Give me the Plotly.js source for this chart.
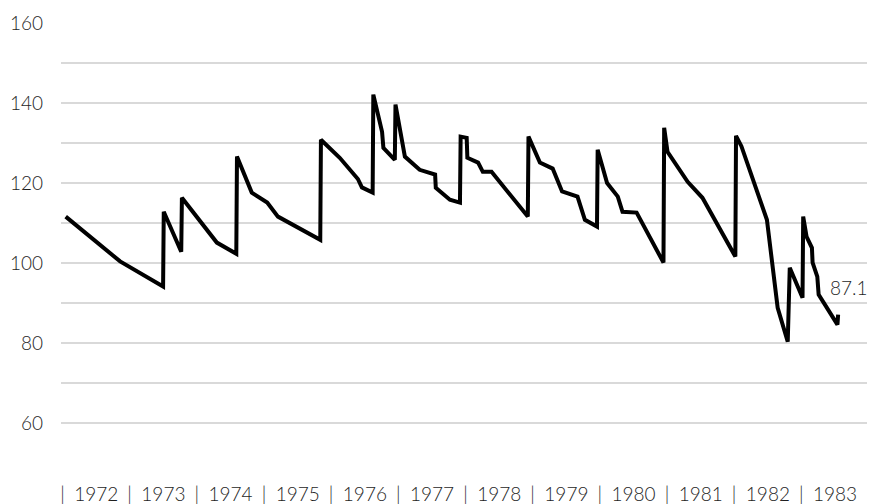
<!DOCTYPE html>
<html>
<head>
<meta charset="utf-8">
<script src="https://cdn.plot.ly/plotly-3.0.1.min.js"></script>
<style>html,body{margin:0;padding:0;background:#fff;}#chart{width:872px;height:504px;}</style>
</head>
<body>
<div id="chart"></div>
<script>
// Tick labels (years)
var yearLabels = [1972,1973,1974,1975,1976,1977,1978,1979,1980,1981,1982,1983];

// Time (decimal years) and index values
var t = [
  1972.07, 1972.88, 1973.52, 1973.53, 1973.79, 1973.80,
  1974.32, 1974.61, 1974.62, 1974.84, 1975.07, 1975.23, 1975.86, 1975.87,
  1976.15, 1976.42, 1976.48, 1976.64, 1976.65, 1976.78, 1976.80, 1976.97, 1976.98,
  1977.12, 1977.34, 1977.49, 1977.57, 1977.58, 1977.79, 1977.94, 1977.95,
  1978.04, 1978.05, 1978.21, 1978.28, 1978.41, 1978.95, 1978.96,
  1979.13, 1979.32, 1979.46, 1979.69, 1979.80, 1979.98, 1979.99,
  1980.13, 1980.29, 1980.36, 1980.57, 1980.97, 1980.98,
  1981.03, 1981.33, 1981.55, 1982.04, 1982.05,
  1982.13, 1982.51, 1982.67, 1982.82, 1982.85, 1983.04, 1983.05,
  1983.10, 1983.18, 1983.19, 1983.26, 1983.28, 1983.56, 1983.57
];
var values = [
  111.6, 100.4, 94.1, 112.8, 102.8, 116.3,
  105.1, 102.3, 126.6, 117.6, 115.1, 111.6, 105.8, 130.8,
  126.3, 121.0, 118.9, 117.6, 142.1, 132.8, 128.8, 125.8, 139.6,
  126.6, 123.3, 122.6, 122.1, 118.8, 115.8, 115.1, 131.6,
  131.3, 126.3, 125.1, 122.8, 122.8, 111.6, 131.6,
  125.1, 123.6, 117.9, 116.6, 110.8, 109.1, 128.3,
  120.0, 116.6, 112.8, 112.6, 100.1, 133.8,
  127.8, 120.3, 116.3, 101.6, 131.8,
  129.2, 110.8, 88.8, 80.3, 98.8, 91.3, 111.6,
  106.6, 103.8, 100.1, 96.6, 92.1, 84.6, 87.1
];

var tickVals = yearLabels.map(function(y){ return y + 0.42; });
var tickText = yearLabels.map(function(y){ return '|\u2002' + y; });

var lastIdx = values.length - 1;
var fontFam = 'Lato, "Open Sans", sans-serif';
var textColor = '#1e1e1e';

var trace = {
  x: t,
  y: values,
  type: 'scatter',
  mode: 'lines',
  line: {color: '#000000', width: 4, shape: 'linear'},
  hoverinfo: 'x+y'
};

var layout = {
  width: 872,
  height: 504,
  margin: {l: 61, r: 5, t: 23, b: 41},
  paper_bgcolor: '#ffffff',
  plot_bgcolor: '#ffffff',
  showlegend: false,
  font: {family: fontFam, color: textColor, size: 19, weight: 300},
  xaxis: {
    range: [1972, 1984],
    showgrid: false,
    zeroline: false,
    showline: false,
    tickmode: 'array',
    tickvals: tickVals,
    ticktext: tickText,
    ticks: '',
    ticklabelstandoff: 18,
    tickfont: {family: fontFam, size: 19, color: textColor, weight: 300}
  },
  yaxis: {
    range: [50, 160],
    tick0: 0,
    dtick: 20,
    showgrid: true,
    gridcolor: '#d9d9d9',
    gridwidth: 1.5,
    minor: {dtick: 10, tick0: 0, showgrid: true, gridcolor: '#d9d9d9', gridwidth: 1.5},
    zeroline: false,
    showline: false,
    ticks: '',
    ticklabelstandoff: 17,
    tickfont: {family: fontFam, size: 19, color: textColor, weight: 300}
  },
  annotations: [{
    x: t[lastIdx],
    y: values[lastIdx],
    text: String(values[lastIdx]),
    showarrow: false,
    xanchor: 'center',
    yanchor: 'bottom',
    xshift: 11,
    yshift: 14,
    font: {family: fontFam, size: 19, color: textColor, weight: 300}
  }]
};

Plotly.newPlot('chart', [trace], layout, {displayModeBar: false, staticPlot: true});
</script>
</body>
</html>
